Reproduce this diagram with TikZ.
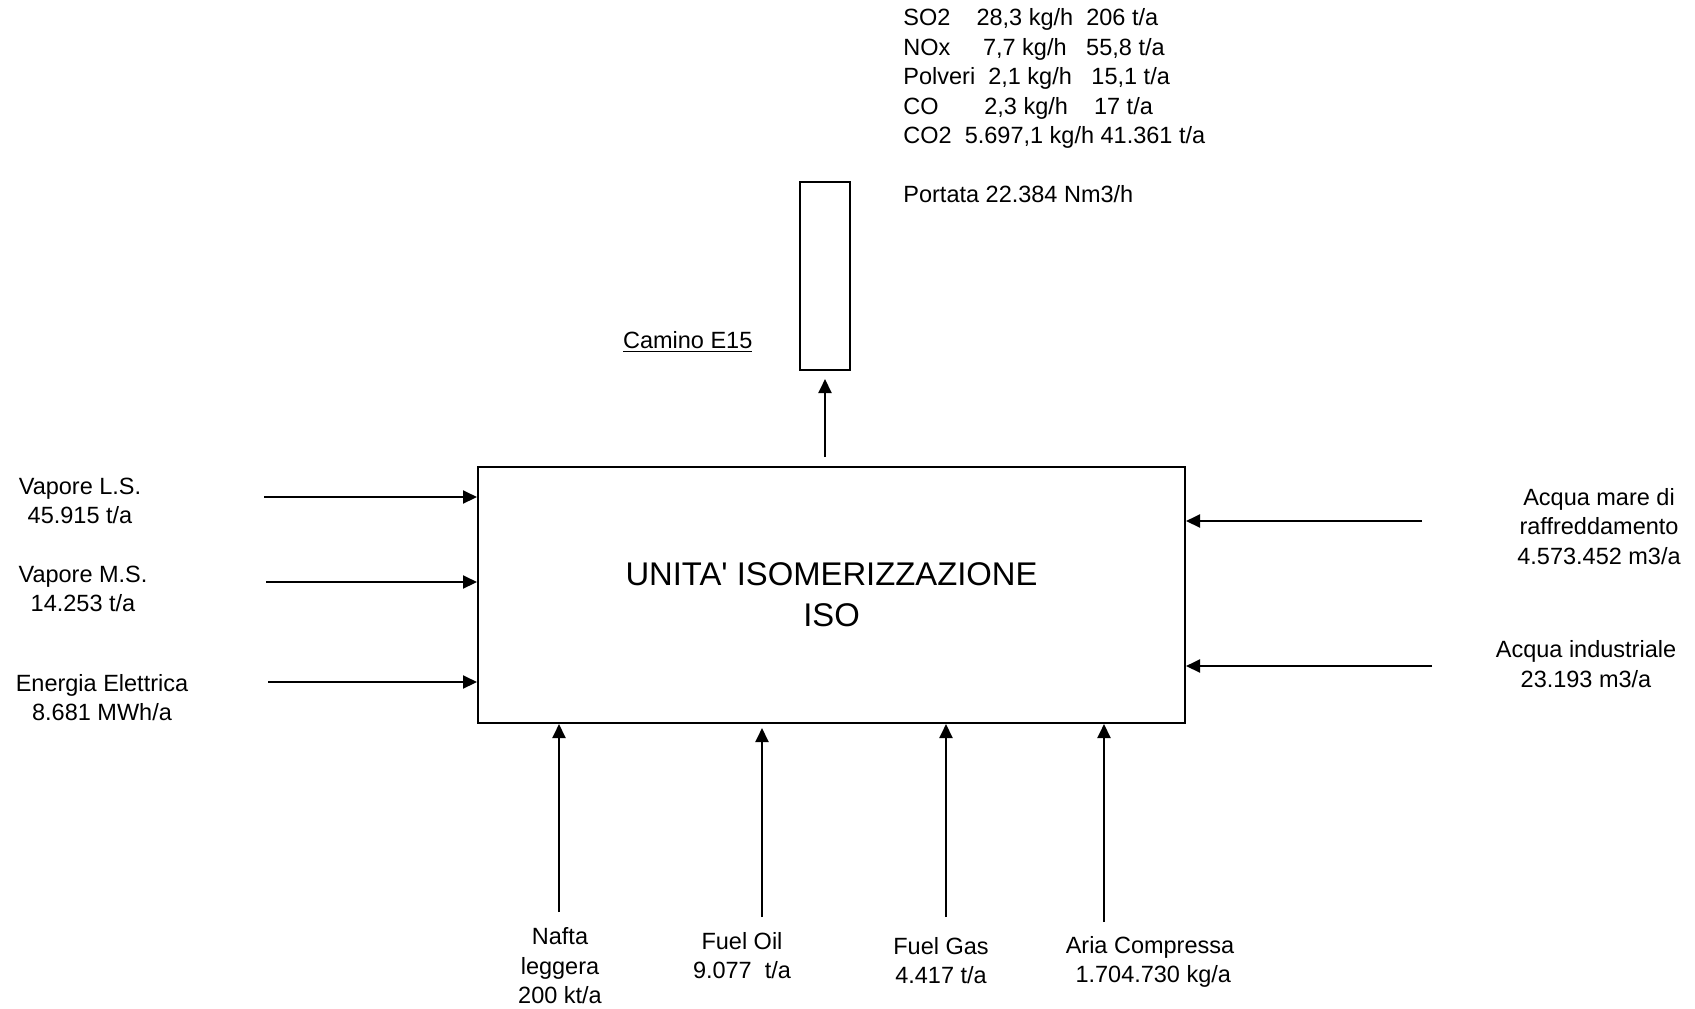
\documentclass[tikz,border=0pt]{standalone}
\usepackage{fontspec}
\setmainfont{Liberation Sans}
\usetikzlibrary{positioning,calc,arrows.meta}
\tikzstyle{unit} = [ draw, rectangle, line width = 1pt, inner sep = 0pt, align = center, font = \fontsize{16.4pt}{20.5pt}\selectfont ]
\tikzstyle{stack} = [ draw, rectangle, line width = 1pt, inner sep = 0pt, minimum width = 25pt, minimum height = 94pt ]
\tikzstyle{flowtext} = [ inner sep = 0pt, align = center, font = \fontsize{11.75pt}{14.75pt}\selectfont ]
\tikzstyle{edge} = [ -{Triangle[length=7pt, width=6.5pt]}, line width = 1pt ]

\begin{document}
\begin{tikzpicture}[x=0.5pt, y=-0.5pt]
	\useasboundingbox ( 0, 0 ) rectangle ( 1695, 1008 );

	% unit and stack
	\node[unit, minimum width = 353.5pt, minimum height = 128pt] (iso) at ( 831.5, 595 ) { UNITA\textquotesingle{} ISOMERIZZAZIONE\\ISO };
	\node[stack] (camino) at ( 825, 276 ) {};
	\node[flowtext, anchor = base] (caminolbl) at ( 691, 348.4 ) { \underline{Camino E15} };
	\node[flowtext, align = left, anchor = north west] (emis) at ( 903, 8.4 ) {SO2\ \ \ \ 28,3 kg/h\ \ 206 t/a\\
		NOx\ \ \ \ \ 7,7 kg/h\ \ \ 55,8 t/a\\
		Polveri\ \ 2,1 kg/h\ \ \ 15,1 t/a\\
		CO\ \ \ \ \ \ \ 2,3 kg/h\ \ \ \ 17 t/a\\
		CO2\ \ 5.697,1 kg/h 41.361 t/a\\[14.75pt]
		Portata 22.384 Nm3/h};

	% inputs, left
	\node[flowtext] (lsl) at ( 80, 501 ) { Vapore L.S.\\45.915 t/a };
	\node[flowtext] (msl) at ( 83, 589 ) { Vapore M.S.\\14.253 t/a };
	\node[flowtext] (eel) at ( 102, 697.5 ) { Energia Elettrica\\8.681 MWh/a };
	\coordinate (ls) at ( 264, 497 );
	\coordinate (ms) at ( 266, 582 );
	\coordinate (ee) at ( 268, 682 );

	% inputs, right
	\node[flowtext] (aml) at ( 1599, 526.5 ) { Acqua mare di\\raffreddamento\\4.573.452 m3/a };
	\node[flowtext] (ail) at ( 1586, 664 ) { Acqua industriale\\23.193 m3/a };
	\coordinate (am) at ( 1422, 521 );
	\coordinate (ai) at ( 1432, 666 );

	% inputs, bottom
	\node[flowtext] (nfl) at ( 560, 966 ) { Nafta\\leggera\\200 kt/a };
	\node[flowtext] (fol) at ( 742, 955.5 ) { Fuel Oil\\9.077\ \ t/a };
	\node[flowtext] (fgl) at ( 941, 960.5 ) { Fuel Gas\\4.417 t/a };
	\node[flowtext] (acl) at ( 1150, 962 ) { Aria Compressa\\\hphantom{\ }1.704.730 kg/a };
	\coordinate (nf) at ( 559, 912 );
	\coordinate (fo) at ( 762, 917 );
	\coordinate (fg) at ( 946, 917 );
	\coordinate (ac) at ( 1104, 922 );
	\coordinate (out) at ( 825, 457 );

	\draw[edge](ls) -- (ls -| iso.west);
	\draw[edge](ms) -- (ms -| iso.west);
	\draw[edge](ee) -- (ee -| iso.west);
	\draw[edge](am) -- (am -| iso.east);
	\draw[edge](ai) -- (ai -| iso.east);
	\draw[edge](nf) -- (nf |- iso.south);
	\draw[edge, shorten > = 2pt](fo) -- (fo |- iso.south);
	\draw[edge](fg) -- (fg |- iso.south);
	\draw[edge](ac) -- (ac |- iso.south);
	\draw[edge, shorten > = 4pt](out) -- (camino.south);
\end{tikzpicture}
\end{document}
